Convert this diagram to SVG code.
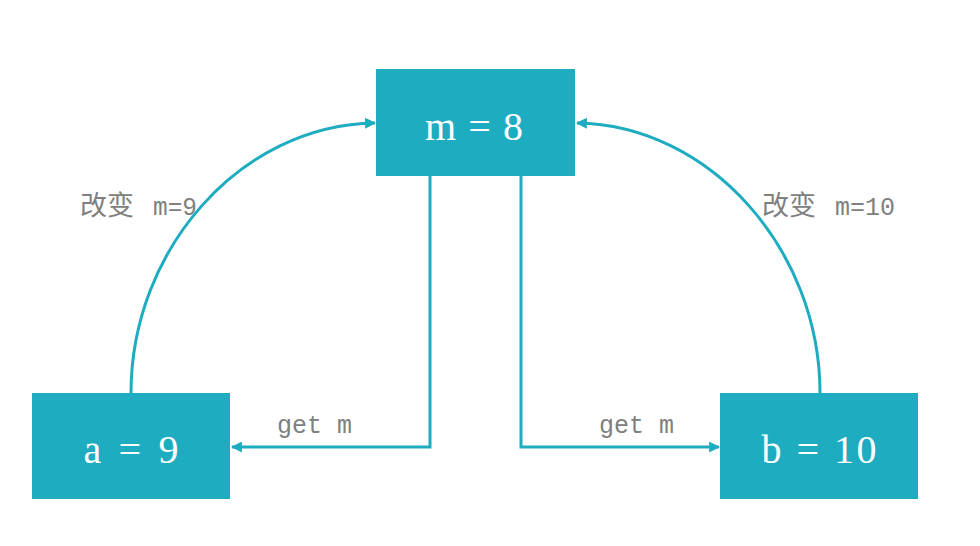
<svg xmlns="http://www.w3.org/2000/svg" width="980" height="546" viewBox="0 0 980 546">
<defs>
<style>
.box{fill:#1EACC1;}
.nt{fill:#ffffff;font-family:"Liberation Serif","Noto Sans CJK SC",serif;font-size:40px;text-anchor:middle;}
.lbl{fill:#808080;font-family:"Liberation Mono","Noto Sans CJK SC",monospace;font-size:25px;}
.cjk{font-family:"Noto Sans CJK SC",sans-serif;font-size:27px;}
.ln{fill:none;stroke:#1EACC1;stroke-width:3;}
</style>
<marker id="ah" viewBox="0 0 10 10" refX="9" refY="5" markerWidth="11" markerHeight="11" markerUnits="userSpaceOnUse" orient="auto">
<path d="M0,0 L10,5 L0,10 z" fill="#1EACC1"/>
</marker>
</defs>
<rect width="980" height="546" fill="#ffffff"/>
<g id="connectors">
<path class="ln" d="M131,393 C131,250 240,125 375,123" marker-end="url(#ah)"/>
<path class="ln" d="M820,393 C820,250 710,125 577,123" marker-end="url(#ah)"/>
<path class="ln" d="M430,176 V447 H232" marker-end="url(#ah)"/>
<path class="ln" d="M521,176 V447 H719" marker-end="url(#ah)"/>
<text class="lbl" y="215"><tspan class="cjk" x="80">改变</tspan><tspan x="153" textLength="44" lengthAdjust="spacingAndGlyphs">m=9</tspan></text>
<text class="lbl" y="215"><tspan class="cjk" x="762">改变</tspan><tspan x="835" textLength="60" lengthAdjust="spacingAndGlyphs">m=10</tspan></text>
<text class="lbl" x="277" y="433" textLength="75" lengthAdjust="spacingAndGlyphs">get m</text>
<text class="lbl" x="599" y="433" textLength="75" lengthAdjust="spacingAndGlyphs">get m</text>
</g>
<g id="node-m">
<rect class="box" x="376" y="69" width="199" height="107"/>
<text class="nt" x="474" y="140" textLength="98" lengthAdjust="spacing">m = 8</text>
</g>
<g id="node-a">
<rect class="box" x="32" y="393" width="198" height="106"/>
<text class="nt" x="131" y="463" textLength="95" lengthAdjust="spacing">a = 9</text>
</g>
<g id="node-b">
<rect class="box" x="720" y="393" width="198" height="106"/>
<text class="nt" x="819" y="463" textLength="115" lengthAdjust="spacing">b = 10</text>
</g>
</svg>
